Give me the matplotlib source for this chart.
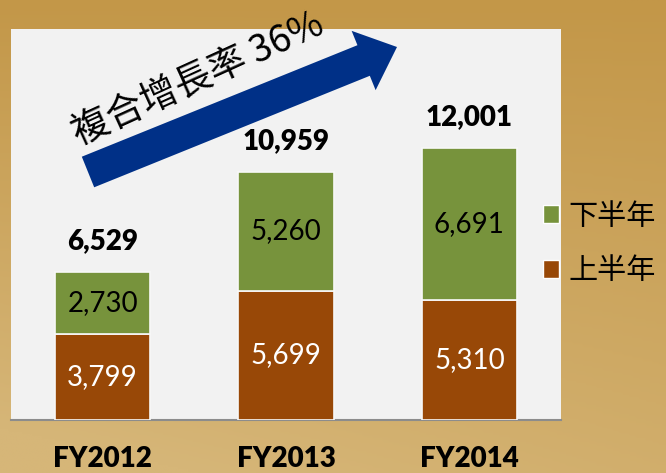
import matplotlib.pyplot as plt
import numpy as np
from matplotlib.patches import Patch, FancyArrow
from matplotlib.colors import LinearSegmentedColormap

## data ##
years = ["FY2012", "FY2013", "FY2014"]
first_half = [3799, 5699, 5310]    # 上半年
second_half = [2730, 5260, 6691]   # 下半年
totals = [6529, 10959, 12001]
growth_text = "複合增長率 36%"

green = "#77933c"
brown = "#984807"
cjk = ["Noto Sans CJK TC", "DejaVu Sans"]
num = ["Lato", "DejaVu Sans"]

W, H = 666, 473
fig = plt.figure(figsize=(W / 100, H / 100), dpi=100)

## tan gradient background ##
bg = fig.add_axes([0, 0, 1, 1], zorder=-10)
cmap = LinearSegmentedColormap.from_list("tan", ["#c39748", "#d6b678"])
yy, xx = np.mgrid[0:1:200j, 0:1:200j]
grad = 0.75 * yy + 0.35 * (1 - xx) * yy
bg.imshow(grad, cmap=cmap, aspect="auto", extent=[0, 1, 0, 1], origin="upper",
          vmin=0, vmax=1)
bg.axis("off")

## main axes ##
ax = fig.add_axes([11 / W, 1 - 420 / H, 550 / W, 391 / H])
ax.set_facecolor("#f2f2f2")
x = np.arange(len(years))
w = 0.52
ax.bar(x, first_half, w, color=brown, edgecolor="#f8f8f8", linewidth=1.2, zorder=3)
ax.bar(x, second_half, w, bottom=first_half, color=green, edgecolor="#f8f8f8",
       linewidth=1.2, zorder=3)
ax.set_xlim(-0.5, 2.5)
ax.set_ylim(0, 17250)

for i in range(len(years)):
    ax.text(x[i], first_half[i] / 2, f"{first_half[i]:,}", ha="center", va="center",
            color="white", fontsize=20, family=num, zorder=4)
    ax.text(x[i], first_half[i] + second_half[i] / 2, f"{second_half[i]:,}",
            ha="center", va="center", color="black", fontsize=20, family=num, zorder=4)
    ax.annotate(f"{totals[i]:,}", (x[i], totals[i]), xytext=(0, 22),
                textcoords="offset points", ha="center", va="center",
                fontsize=20, fontweight="heavy", family=num)

ax.set_yticks([])
ax.set_xticks(x)
ax.set_xticklabels(years, fontsize=20, fontweight="heavy", family=num)
ax.tick_params(axis="x", length=0, pad=19)
for s in ["top", "left", "right"]:
    ax.spines[s].set_visible(False)
ax.spines["bottom"].set_color("#8c8c8c")
ax.spines["bottom"].set_linewidth(1.5)

## arrow + growth text (pixel overlay) ##
ov = fig.add_axes([0, 0, 1, 1], zorder=5)
ov.set_xlim(0, W)
ov.set_ylim(H, 0)
ov.axis("off")
x0, y0 = 88, 172
x1, y1 = 397, 47
ov.add_patch(FancyArrow(x0, y0, x1 - x0, y1 - y0, width=33, head_width=64,
                        head_length=36, length_includes_head=True,
                        color="#003087", lw=0))
ov.text(198, 79, growth_text, rotation=24.5, rotation_mode="anchor",
        ha="center", va="center", fontsize=27, family=cjk)

## legend ##
handles = [Patch(facecolor=green, edgecolor="white", lw=1),
           Patch(facecolor=brown, edgecolor="white", lw=1)]
fig.legend(handles, ["下半年", "上半年"], loc="center left",
           bbox_to_anchor=(528 / W, 1 - 244 / H), frameon=False,
           prop={"family": cjk, "size": 21}, handlelength=0.55, handleheight=0.55,
           handletextpad=0.35, labelspacing=0.85, borderpad=0)

fig.savefig("out.png", dpi=100)
